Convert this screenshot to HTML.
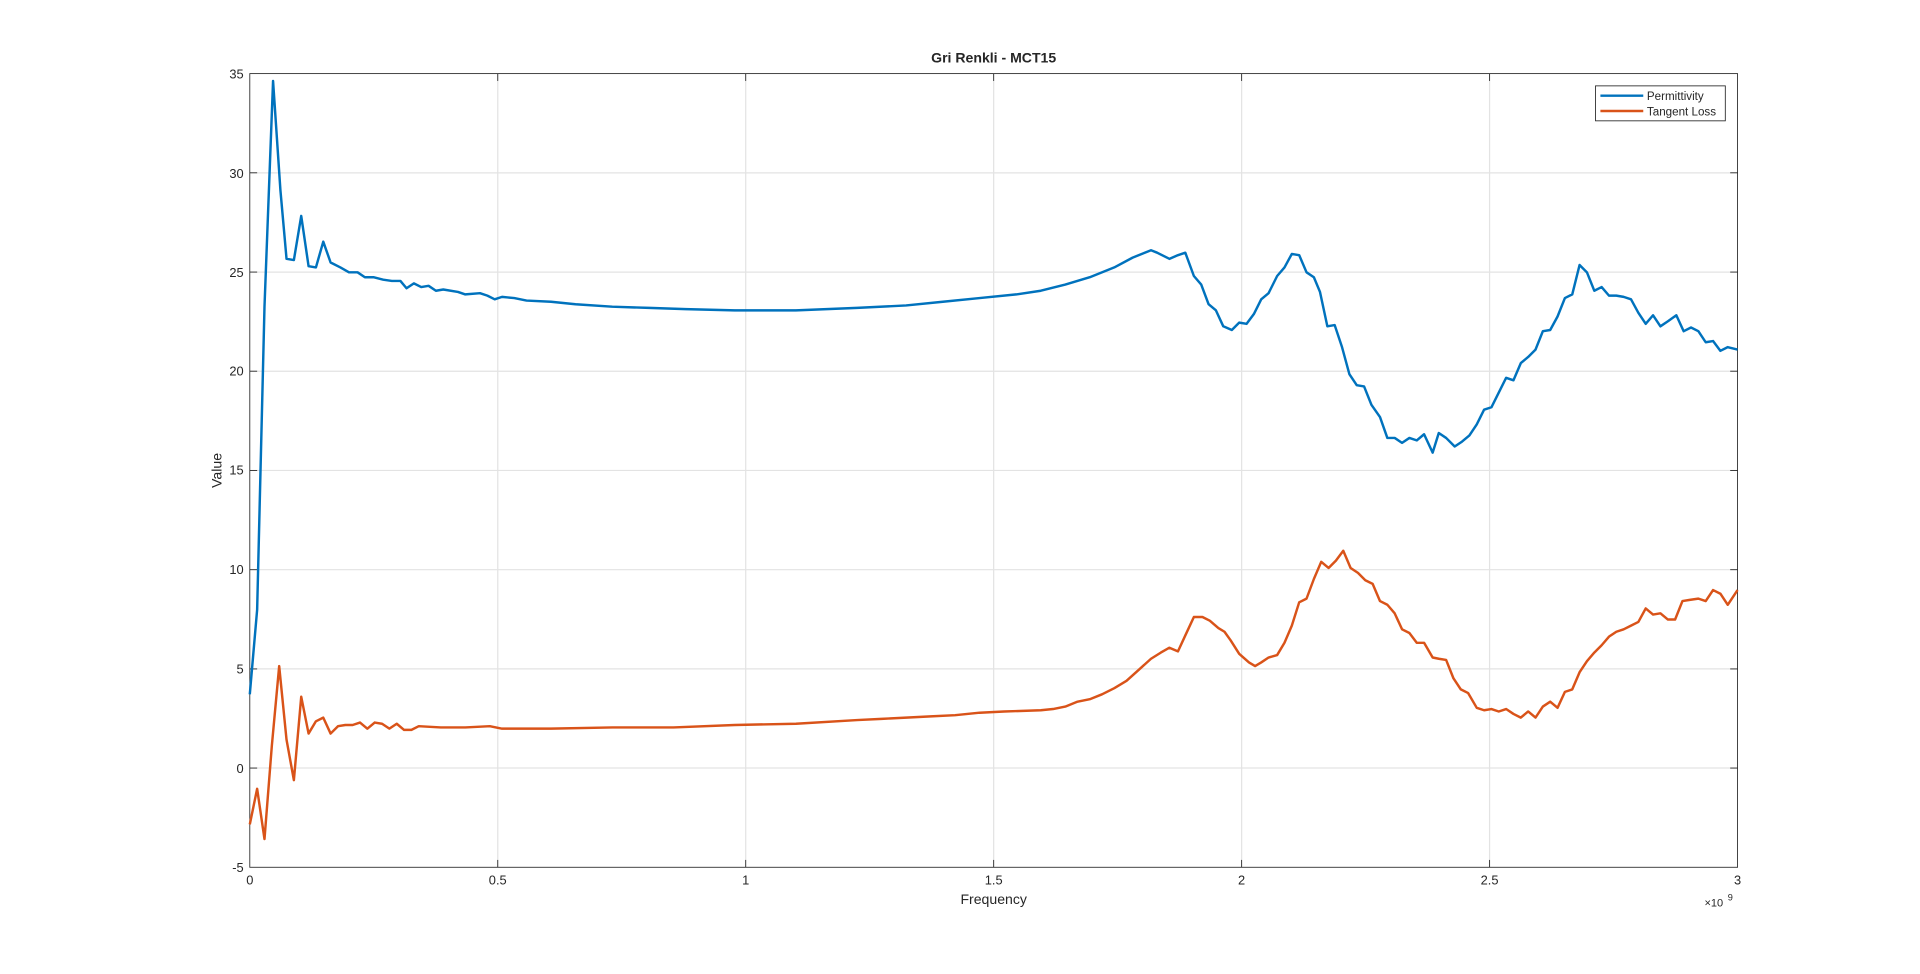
<!DOCTYPE html>
<html><head><style>html,body{margin:0;padding:0;background:#fff;overflow:hidden}svg{display:block}text{font-family:"Liberation Sans",Arial,sans-serif;fill:#262626}</style></head>
<body>
<svg width="1920" height="974" viewBox="0 0 1568 794" preserveAspectRatio="none" xmlns="http://www.w3.org/2000/svg">
<rect x="0" y="0" width="1568" height="794" fill="#fff"/>
<g stroke="#e3e3e3" stroke-width="1">
<line x1="406.5" y1="60" x2="406.5" y2="707"/><line x1="609" y1="60" x2="609" y2="707"/><line x1="811.5" y1="60" x2="811.5" y2="707"/><line x1="1014" y1="60" x2="1014" y2="707"/><line x1="1216.5" y1="60" x2="1216.5" y2="707"/>
<line x1="204" y1="140.9" x2="1419" y2="140.9"/><line x1="204" y1="221.8" x2="1419" y2="221.8"/><line x1="204" y1="302.6" x2="1419" y2="302.6"/><line x1="204" y1="383.5" x2="1419" y2="383.5"/><line x1="204" y1="464.4" x2="1419" y2="464.4"/><line x1="204" y1="545.3" x2="1419" y2="545.3"/><line x1="204" y1="626.1" x2="1419" y2="626.1"/>
</g>
<rect x="204" y="60" width="1215" height="647" fill="none" stroke="#262626" stroke-width="0.7"/>
<g stroke="#262626" stroke-width="0.7">
<line x1="406.5" y1="707" x2="406.5" y2="701"/><line x1="609" y1="707" x2="609" y2="701"/><line x1="811.5" y1="707" x2="811.5" y2="701"/><line x1="1014" y1="707" x2="1014" y2="701"/><line x1="1216.5" y1="707" x2="1216.5" y2="701"/>
<line x1="406.5" y1="60" x2="406.5" y2="66"/><line x1="609" y1="60" x2="609" y2="66"/><line x1="811.5" y1="60" x2="811.5" y2="66"/><line x1="1014" y1="60" x2="1014" y2="66"/><line x1="1216.5" y1="60" x2="1216.5" y2="66"/>
<path d="M204 140.9h6M204 221.8h6M204 302.6h6M204 383.5h6M204 464.4h6M204 545.3h6M204 626.1h6M1419 140.9h-6M1419 221.8h-6M1419 302.6h-6M1419 383.5h-6M1419 464.4h-6M1419 545.3h-6M1419 626.1h-6"/>
</g>
<g font-size="10.5" text-anchor="end">
<text x="199" y="64">35</text><text x="199" y="145">30</text><text x="199" y="226">25</text><text x="199" y="306">20</text><text x="199" y="387">15</text><text x="199" y="468">10</text><text x="199" y="549">5</text><text x="199" y="630">0</text><text x="199" y="711">-5</text>
</g>
<g font-size="10.5" text-anchor="middle">
<text x="204" y="721">0</text><text x="406.5" y="721">0.5</text><text x="609" y="721">1</text><text x="811.5" y="721">1.5</text><text x="1014" y="721">2</text><text x="1216.5" y="721">2.5</text><text x="1419" y="721">3</text>
</g>
<text x="1392" y="739" font-size="9">×10</text><text x="1411" y="734" font-size="7.5">9</text>
<text x="811.5" y="737" font-size="11.5" text-anchor="middle">Frequency</text>
<text x="181" y="383.5" font-size="11.5" text-anchor="middle" transform="rotate(-90 181 383.5)">Value</text>
<text x="811.5" y="51" font-size="11.5" font-weight="bold" text-anchor="middle">Gri Renkli - MCT15</text>
<polyline fill="none" stroke="#0072BD" stroke-width="2" stroke-linejoin="round" points="204,566 210,497 216,250 223,66 229,155 234,211 240,212 246,176 252,217 258,218 264,197 270,214 278,218 285,222 292,222 298,226 305,226 313,228 320,229 327,229 332,235 338,231 344,234 350,233 356,237 362,236 374,238 380,240 392,239 398,241 404,244 410,242 420,243 430,245 450,246 470,248 500,250 530,251 560,252 600,253 650,253 700,251 740,249 770,246 800,243 830,240 850,237 870,232 890,226 910,218 925,210 940,204 945,206 955,211 962,208 968,206 975,225 981,232 987,248 993,253 999,266 1006,269 1012,263 1018,264 1024,256 1030,244 1036,239 1043,225 1049,218 1055,207 1061,208 1067,222 1073,226 1078,238 1084,266 1090,265 1096,283 1102,305 1108,314 1114,315 1120,330 1127,340 1133,357 1139,357 1145,361 1151,357 1157,359 1163,354 1170,369 1175,353 1181,357 1188,364 1194,360 1200,355 1206,346 1212,334 1218,332 1224,320 1230,308 1236,310 1242,296 1248,291 1254,285 1260,270 1266,269 1272,258 1278,243 1284,240 1290,216 1296,222 1302,237 1308,234 1314,241 1320,241 1326,242 1332,244 1338,255 1344,264 1350,257 1356,266 1362,262 1369,257 1375,270 1381,267 1387,270 1393,279 1399,278 1405,286 1411,283 1419,285"/>
<polyline fill="none" stroke="#D95319" stroke-width="2" stroke-linejoin="round" points="204,672 210,643 216,684 222,608 228,543 234,603 240,636 246,568 252,598 258,588 264,585 270,598 276,592 282,591 288,591 294,589 300,594 306,589 312,590 318,594 324,590 330,595 336,595 342,592 360,593 380,593 400,592 410,594 450,594 500,593 550,593 600,591 650,590 700,587 720,586 760,584 780,583 800,581 820,580 850,579 860,578 870,576 880,572 890,570 900,566 910,561 920,555 930,546 940,537 948,532 955,528 962,531 968,518 975,503 982,503 988,506 995,512 1000,515 1005,522 1012,533 1020,540 1025,543 1030,540 1036,536 1043,534 1049,524 1055,510 1061,491 1067,488 1073,472 1079,458 1085,463 1091,457 1097,449 1103,463 1109,467 1115,473 1121,476 1127,490 1133,493 1139,500 1145,513 1151,516 1157,524 1163,524 1170,536 1175,537 1181,538 1187,553 1193,562 1199,565 1206,577 1212,579 1218,578 1224,580 1230,578 1236,582 1242,585 1248,580 1254,585 1260,576 1266,572 1272,577 1278,564 1284,562 1290,548 1296,539 1302,532 1308,526 1314,519 1320,515 1326,513 1332,510 1338,507 1344,496 1350,501 1356,500 1362,505 1368,505 1374,490 1380,489 1387,488 1393,490 1399,481 1405,484 1411,493 1419,481"/>
<rect x="1303" y="70" width="106" height="28.5" fill="#fff" stroke="#262626" stroke-width="0.7"/>
<line x1="1307" y1="78" x2="1342" y2="78" stroke="#0072BD" stroke-width="2"/>
<line x1="1307" y1="90.5" x2="1342" y2="90.5" stroke="#D95319" stroke-width="2"/>
<text x="1345" y="81.5" font-size="9.5">Permittivity</text>
<text x="1345" y="94" font-size="9.5">Tangent Loss</text>
</svg>
</body></html>
